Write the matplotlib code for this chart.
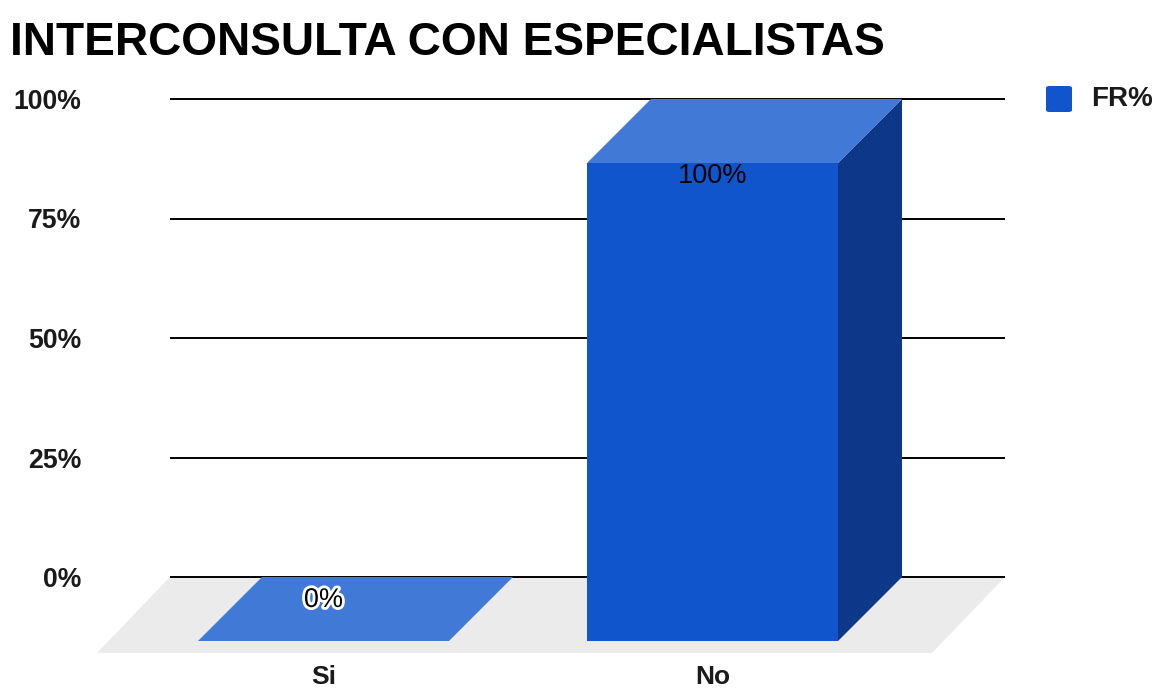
import matplotlib
matplotlib.use("Agg")
import matplotlib.pyplot as plt
from matplotlib.patches import Polygon, Rectangle, FancyBboxPatch
import matplotlib.patheffects as pe

# Data
categories = ["Si", "No"]
values = [0, 100]          # FR%
y_ticks = [0, 25, 50, 75, 100]
y_tick_labels = ["0%", "25%", "50%", "75%", "100%"]
series_name = "FR%"
title = "INTERCONSULTA CON ESPECIALISTAS"

# Styling
FRONT = "#1155cc"
TOP = "#4179d7"
SIDE = "#0d3889"
FLOOR = "#ebebeb"
W, H, DPI = 1157, 691, 100

plt.rcParams["font.family"] = ["Liberation Sans", "DejaVu Sans"]

fig = plt.figure(figsize=(W / DPI, H / DPI), dpi=DPI)
# back plane of the pseudo-3D box: x 170..1005 px, y 99..577 px (from top)
ax = fig.add_axes([170 / W, (H - 577) / H, (1005 - 170) / W, (577 - 99) / H])

x_pos = list(range(len(categories)))
px_per_unit = 389.0
xlim = (-(387.5 - 170) / px_per_unit, 1 + (1005 - 776.5) / px_per_unit)
ax.set_xlim(*xlim)
ax.set_ylim(0, 100)
px_per_pct = (577 - 99) / 100.0

bar_w = 251 / px_per_unit
# depth of bars and of the floor (in data units)
dx = -64 / px_per_unit
dy = -64 / px_per_pct
fdx = -73 / px_per_unit
fdy = -76 / px_per_pct

for s in ax.spines.values():
    s.set_visible(False)

# floor
floor = Polygon([(xlim[0], 0), (xlim[1], 0), (xlim[1] + fdx, fdy), (xlim[0] + fdx, fdy)],
                closed=True, facecolor=FLOOR, edgecolor="none", clip_on=False, zorder=0)
ax.add_patch(floor)

# gridlines on back wall
for t in y_ticks:
    ax.plot([xlim[0], xlim[1]], [t, t], color="black", lw=1.4, zorder=1,
            solid_capstyle="butt", clip_on=False)

# bars
for x, v in zip(x_pos, values):
    l, r = x - bar_w / 2, x + bar_w / 2
    # right side face
    side = Polygon([(r + dx, dy), (r, 0), (r, v), (r + dx, v + dy)], closed=True,
                   facecolor=SIDE, edgecolor="none", clip_on=False, zorder=2)
    # top face
    top = Polygon([(l + dx, v + dy), (r + dx, v + dy), (r, v), (l, v)], closed=True,
                  facecolor=TOP, edgecolor="none", clip_on=False, zorder=3)
    ax.add_patch(side)
    ax.add_patch(top)
    if v > 0:
        front = Rectangle((l + dx, dy), bar_w, v, facecolor=FRONT, edgecolor="none",
                          clip_on=False, zorder=4)
        ax.add_patch(front)

# value labels
for x, v in zip(x_pos, values):
    label = f"{v}%"
    if v > 0:
        ax.annotate(label, (x + dx, v + dy), xytext=(0, -13), textcoords="offset pixels",
                    ha="center", va="center", fontsize=19.5, color="black", zorder=6,
                    annotation_clip=False)
    else:
        ax.annotate(label, (x + dx, v + dy), xytext=(0, 41), textcoords="offset pixels",
                    ha="center", va="center", fontsize=19.5, color="black", zorder=6,
                    annotation_clip=False,
                    path_effects=[pe.withStroke(linewidth=4, foreground="white")])

# axes ticks
ax.set_yticks(y_ticks)
ax.set_yticklabels(y_tick_labels, fontsize=19.2, fontweight="bold", color="#1a1a1a")
ax.tick_params(axis="y", length=0, pad=64)
ax.set_xticks([x + dx for x in x_pos])
ax.set_xticklabels(categories, fontsize=19, fontweight="bold", color="#1a1a1a")
ax.tick_params(axis="x", length=0, pad=63.5)

# title
fig.text(10 / W, 1 - 55 / H, title, ha="left", va="baseline", fontsize=33.1,
         fontweight="bold", color="black")

# legend: rounded colour swatch plus series name
key = FancyBboxPatch((1046 / W, 1 - 112 / H), 26 / W, 26 / H,
                     boxstyle="round,pad=0,rounding_size=0.003",
                     transform=fig.transFigure, facecolor=FRONT, edgecolor="none")
fig.patches.append(key)
fig.text(1091 / W, 1 - 99 / H, series_name, ha="left", va="center", fontsize=20,
         fontweight="bold", color="#1a1a1a")

fig.savefig("out.png", dpi=DPI)
